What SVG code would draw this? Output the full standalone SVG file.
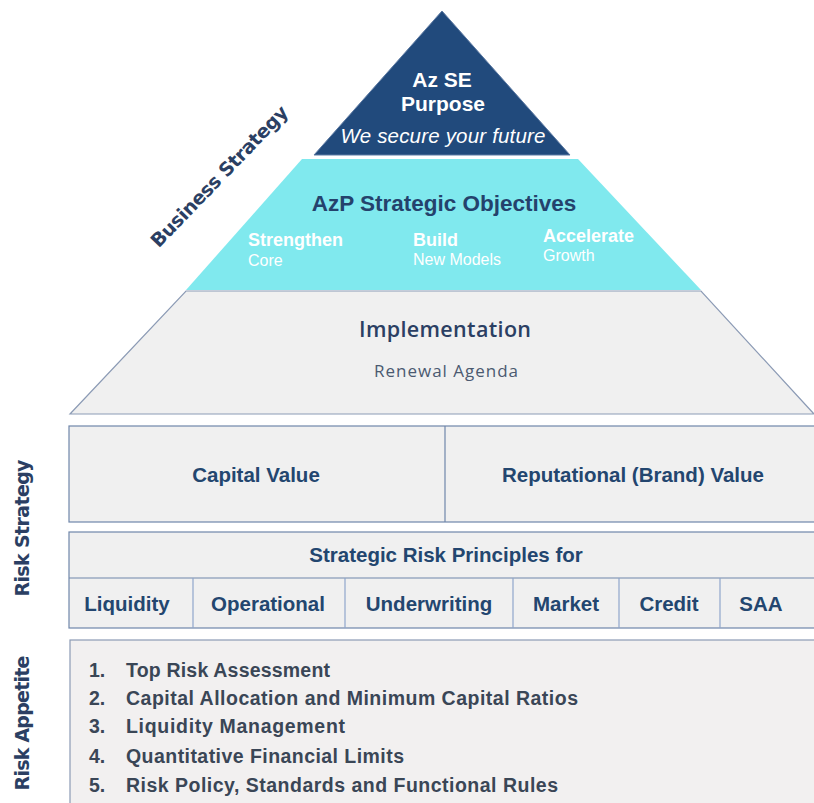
<svg xmlns="http://www.w3.org/2000/svg" width="814" height="803" viewBox="0 0 814 803">
<style>
.lbl{font-family:"Liberation Sans",Arial,sans-serif;}
.side{font-family:"DejaVu Sans","Open Sans",sans-serif;font-weight:bold;font-size:19px;fill:#2b3f63;}
.w{fill:#ffffff;}
.nav{fill:#24426c;font-weight:bold;}
.box{fill:#f0f0f0;stroke:#6f86aa;stroke-width:1.2;}
.cell{font-family:"Liberation Sans",Arial,sans-serif;font-weight:bold;font-size:20.5px;fill:#23466f;text-anchor:middle;}
.item{font-family:"Liberation Sans",Arial,sans-serif;font-weight:bold;font-size:19.5px;fill:#3a4656;}
</style>
<rect width="814" height="803" fill="#ffffff"/>

<g id="purpose">
<polygon points="442,11 570,155 314,155" fill="#214a7c" stroke="#5d7aa3" stroke-width="1"/>
<text class="lbl w" x="442" y="87" font-size="21" font-weight="bold" text-anchor="middle">Az SE</text>
<text class="lbl w" x="443" y="111" font-size="21" font-weight="bold" text-anchor="middle">Purpose</text>
<text class="lbl w" x="443" y="143" font-size="20.5" font-style="italic" text-anchor="middle" textLength="205">We secure your future</text>
</g>

<g id="objectives">
<polygon points="302,159 578,159 701,290 186,290" fill="#80e9ee"/>
<text class="lbl nav" x="444" y="211" font-size="22.5" text-anchor="middle">AzP Strategic Objectives</text>
<text class="lbl w" x="248" y="246" font-size="18" font-weight="bold">Strengthen</text>
<text class="lbl w" x="248" y="266" font-size="16">Core</text>
<text class="lbl w" x="413" y="246" font-size="18" font-weight="bold">Build</text>
<text class="lbl w" x="413" y="265" font-size="16">New Models</text>
<text class="lbl w" x="543" y="242" font-size="18" font-weight="bold">Accelerate</text>
<text class="lbl w" x="543" y="261" font-size="16">Growth</text>
</g>

<g id="business-strategy">
<text class="side" font-size="19.5" text-anchor="middle" textLength="188" transform="translate(224,181) rotate(-46)">Business Strategy</text>
</g>

<g id="implementation">
<polygon points="186,291 701,291 814,414 70,414" fill="#f0f0f0" stroke="#8c9bb5" stroke-width="1.2"/>
<text x="445" y="337" font-family="'Open Sans','Liberation Sans',sans-serif" font-size="21.5" font-weight="600" fill="#2b3f63" text-anchor="middle" textLength="172">Implementation</text>
<text x="446" y="377" font-family="'Open Sans','Liberation Sans',sans-serif" font-size="17" fill="#4b5a70" text-anchor="middle" textLength="144">Renewal Agenda</text>
</g>

<g id="values">
<rect class="box" x="69" y="426" width="750" height="96"/>
<line x1="445" y1="426" x2="445" y2="522" stroke="#6f86aa" stroke-width="1.2"/>
<text class="cell" x="256" y="482" font-size="21">Capital Value</text>
<text class="cell" x="633" y="482" font-size="21">Reputational (Brand) Value</text>
</g>

<g id="principles">
<rect class="box" x="69" y="532" width="750" height="96"/>
<line x1="69" y1="578" x2="814" y2="578" stroke="#6f86aa" stroke-width="1.2"/>
<line x1="193" y1="578" x2="193" y2="628" stroke="#8fa6cc" stroke-width="1.2"/>
<line x1="345" y1="578" x2="345" y2="628" stroke="#8fa6cc" stroke-width="1.2"/>
<line x1="513" y1="578" x2="513" y2="628" stroke="#8fa6cc" stroke-width="1.2"/>
<line x1="619" y1="578" x2="619" y2="628" stroke="#8fa6cc" stroke-width="1.2"/>
<line x1="720" y1="578" x2="720" y2="628" stroke="#8fa6cc" stroke-width="1.2"/>
<text class="cell" x="446" y="562" font-size="20">Strategic Risk Principles for</text>
<text class="cell" x="127" y="611">Liquidity</text>
<text class="cell" x="268" y="611">Operational</text>
<text class="cell" x="429" y="611">Underwriting</text>
<text class="cell" x="566" y="611">Market</text>
<text class="cell" x="669" y="611">Credit</text>
<text class="cell" x="761" y="611">SAA</text>
</g>

<g id="appetite">
<rect x="70" y="640" width="750" height="170" fill="#f2f0f0" stroke="#8c9bb5" stroke-width="1.2"/>
<text class="item" x="89" y="677">1.</text><text class="item" x="126" y="677" textLength="204">Top Risk Assessment</text>
<text class="item" x="89" y="705">2.</text><text class="item" x="126" y="705" textLength="452">Capital Allocation and Minimum Capital Ratios</text>
<text class="item" x="89" y="733">3.</text><text class="item" x="126" y="733" textLength="219">Liquidity Management</text>
<text class="item" x="89" y="763">4.</text><text class="item" x="126" y="763" textLength="278">Quantitative Financial Limits</text>
<text class="item" x="89" y="792">5.</text><text class="item" x="126" y="792" textLength="432">Risk Policy, Standards and Functional Rules</text>
</g>

<g id="side-labels">
<text class="side" text-anchor="middle" textLength="137" transform="translate(29,528) rotate(-90)">Risk Strategy</text>
<text class="side" text-anchor="middle" textLength="135" transform="translate(29,723) rotate(-90)">Risk Appetite</text>
</g>
</svg>
